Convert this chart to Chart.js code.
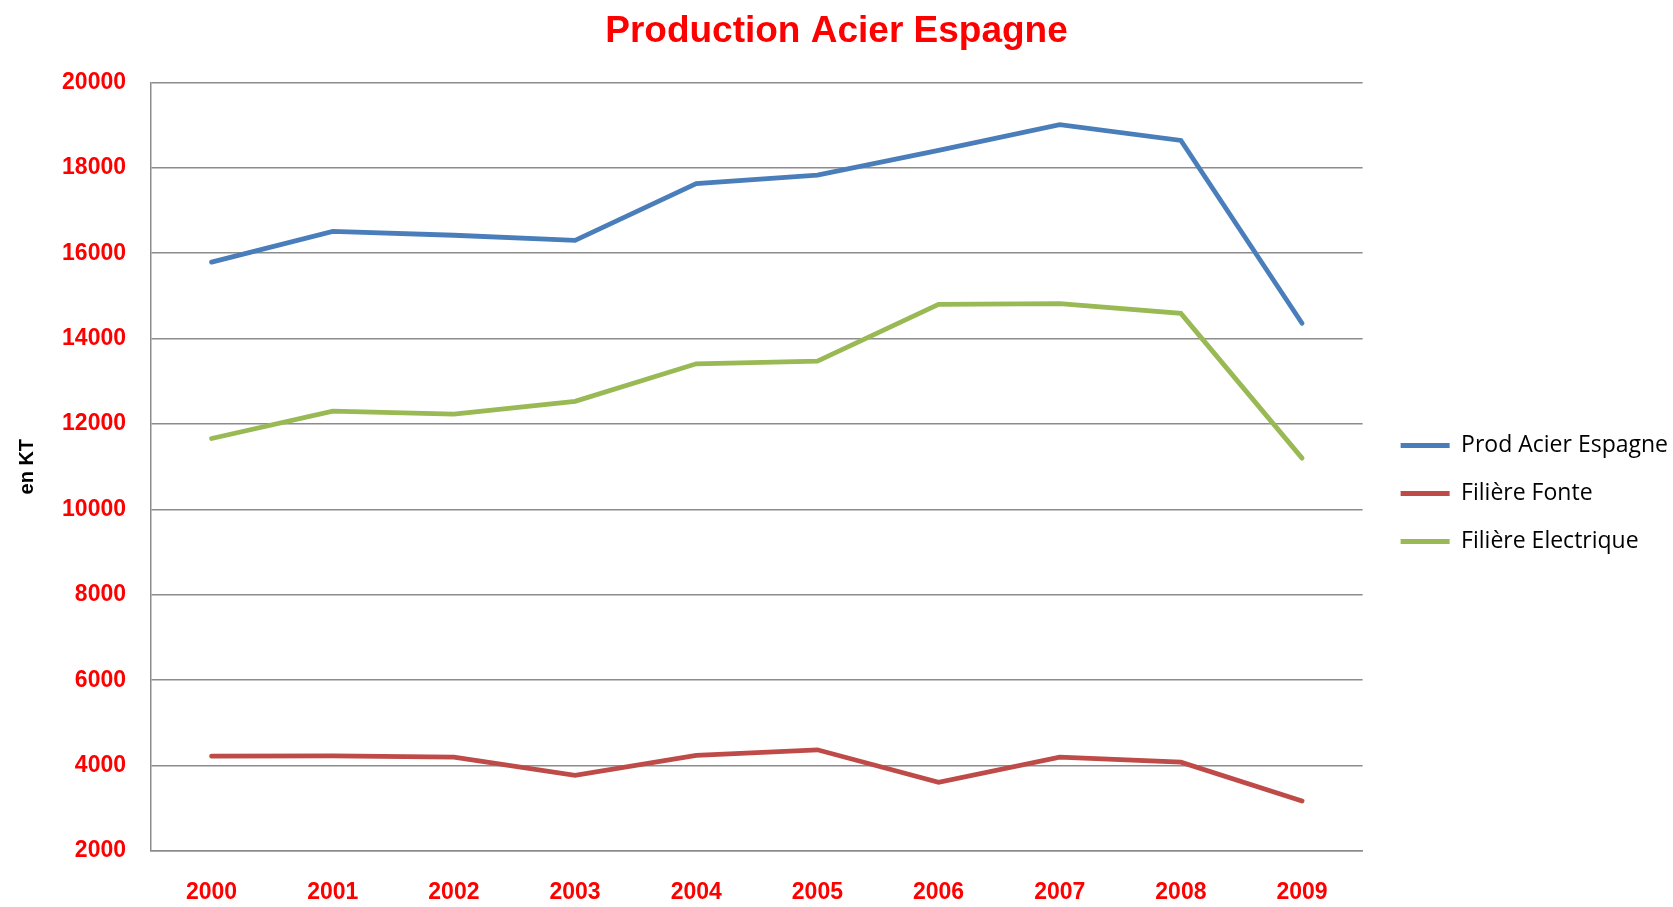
<!DOCTYPE html>
<html>
<head>
    <title>Production Acier Espagne</title>
    <style>
        html, body {
            margin: 0;
            padding: 0;
            background-color: #fff;
        }

        #chart-container {
            width: 1673px;
            height: 907px;
        }
    </style>
</head>
<body>
    <div id="chart-container">
        <canvas id="chart"></canvas>
    </div>

    <script src="https://cdn.jsdelivr.net/npm/chart.js"></script>
    <script>
        const years = ['2000', '2001', '2002', '2003', '2004', '2005', '2006', '2007', '2008', '2009'];
        const prodAcier = [15790, 16510, 16420, 16300, 17630, 17830, 18410, 19010, 18640, 14360];
        const filiereFonte = [4220, 4230, 4200, 3770, 4240, 4370, 3610, 4200, 4080, 3170];
        const filiereElectrique = [11660, 12300, 12230, 12530, 13410, 13470, 14800, 14820, 14590, 11200];
        const seriesNames = ['Prod Acier Espagne', 'Filière Fonte', 'Filière Electrique'];
        const yTicks = [2000, 4000, 6000, 8000, 10000, 12000, 14000, 16000, 18000, 20000];

        const gridColor = '#8c8c8c';

        // widen the legend box a bit and nudge it into place
        const legendFix = {
            id: 'legendFix',
            beforeLayout(chart) {
                const lg = chart.legend;
                if (!lg || lg._widened) return;
                const fit = lg.fit;
                lg.fit = function () {
                    fit.call(this);
                    this.width += 8;
                };
                lg._widened = true;
            },
            afterLayout(chart) {
                const lg = chart.legend;
                if (!lg) return;
                lg.left += 13;
                lg.right += 13;
                lg.top += 40;
                lg.bottom += 40;
            }
        };

        function lineSet(label, data, color) {
            return {
                label: label,
                data: data,
                borderColor: color,
                backgroundColor: color,
                borderWidth: 4.8,
                borderCapStyle: 'round',
                borderJoinStyle: 'miter',
                pointRadius: 0,
                tension: 0
            };
        }

        const ctx = document.getElementById('chart').getContext('2d');
        const chart = new Chart(ctx, {
            type: 'line',
            data: {
                labels: years,
                datasets: [
                    lineSet(seriesNames[0], prodAcier, '#4a7ebb'),
                    lineSet(seriesNames[1], filiereFonte, '#be4b48'),
                    lineSet(seriesNames[2], filiereElectrique, '#98b954')
                ]
            },
            options: {
                responsive: true,
                maintainAspectRatio: false,
                animation: false,
                layout: { padding: 0 },
                plugins: {
                    title: {
                        display: true,
                        text: 'Production Acier Espagne',
                        color: '#ff0000',
                        font: { family: 'Liberation Sans', size: 37, weight: 'bold' },
                        padding: { top: 10, bottom: 28 }
                    },
                    legend: {
                        position: 'right',
                        labels: {
                            color: '#000',
                            font: { family: 'Open Sans', size: 23 },
                            usePointStyle: true,
                            pointStyle: 'line',
                            pointStyleWidth: 49,
                            padding: 25
                        }
                    },
                    tooltip: { enabled: false }
                },
                scales: {
                    x: {
                        offset: true,
                        grid: { display: false, drawTicks: false },
                        border: { display: true, color: gridColor, width: 1.5 },
                        ticks: {
                            color: '#ff0000',
                            font: { family: 'Liberation Sans', size: 23, weight: 'bold' },
                            padding: 28,
                            maxRotation: 0
                        },
                        afterFit: function (scale) {
                            scale.height = 56;
                        }
                    },
                    y: {
                        min: 2000,
                        max: 20000,
                        afterBuildTicks: function (scale) {
                            scale.ticks = yTicks.map(v => ({ value: v }));
                        },
                        grid: { color: gridColor, lineWidth: 1.5, drawTicks: false },
                        border: { display: true, color: gridColor, width: 1.5 },
                        ticks: {
                            color: '#ff0000',
                            font: { family: 'Liberation Sans', size: 23, weight: 'bold' },
                            padding: 25,
                            callback: function (value) {
                                return String(value);
                            }
                        },
                        title: {
                            display: true,
                            text: 'en KT',
                            color: '#000',
                            font: { family: 'Liberation Sans', size: 20, weight: 'bold' },
                            padding: { top: 15, bottom: 0 }
                        },
                        afterFit: function (scale) {
                            scale.width = 151;
                        }
                    }
                }
            },
            plugins: [legendFix]
        });
    </script>
</body>
</html>
